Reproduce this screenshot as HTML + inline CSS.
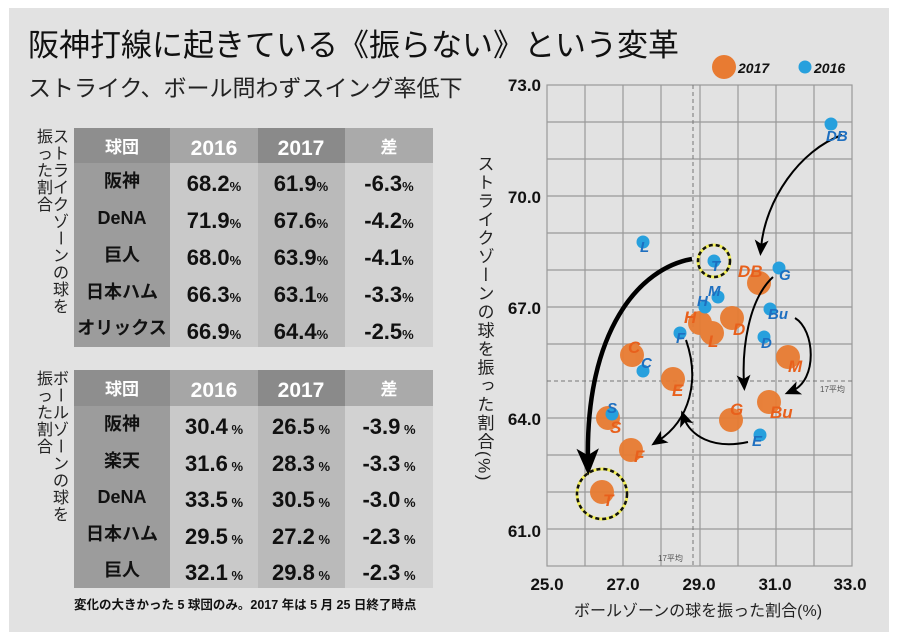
<!DOCTYPE html>
<html><head><meta charset="utf-8"><style>
html,body{margin:0;padding:0;background:#fff;}
svg{display:block;}
text{font-family:"Liberation Sans","Noto Sans CJK JP",sans-serif;}
</style></head><body>
<svg width="900" height="644" viewBox="0 0 900 644" xmlns="http://www.w3.org/2000/svg">
<defs>
<marker id="ah" markerWidth="6" markerHeight="6" refX="3" refY="3" orient="auto" markerUnits="strokeWidth"><path d="M0,0.5 L6,3 L0,5.5 L1.5,3 Z" fill="#000"/></marker>
<marker id="ah2" markerWidth="8" markerHeight="8" refX="4" refY="4" orient="auto" markerUnits="strokeWidth"><path d="M0,0.5 L8,4 L0,7.5 L2,4 Z" fill="#000"/></marker>
</defs>
<rect x="9" y="8" width="880" height="624" fill="#e2e2e2"/>
<text x="28" y="56" font-size="31" fill="#111">阪神打線に起きている《振らない》という変革</text>
<text x="28" y="96" font-size="23" fill="#222">ストライク、ボール問わずスイング率低下</text>

<!-- table 1 -->
<g>
<rect x="74" y="128" width="96" height="219" fill="#9c9c9c"/>
<rect x="170" y="128" width="88" height="219" fill="#c9c9c9"/>
<rect x="258" y="128" width="87" height="219" fill="#bababa"/>
<rect x="345" y="128" width="88" height="219" fill="#d2d2d2"/>
<rect x="74" y="128" width="96" height="35" fill="#8e8e8e"/>
<rect x="170" y="128" width="88" height="35" fill="#a6a6a6"/>
<rect x="258" y="128" width="87" height="35" fill="#8a8a8a"/>
<rect x="345" y="128" width="88" height="35" fill="#aaaaaa"/>
<g fill="#fff" font-size="21" font-weight="bold" text-anchor="middle">
<text x="122" y="153" font-size="17">球団</text><text x="214" y="155">2016</text><text x="301" y="155">2017</text><text x="389" y="153" font-size="17">差</text></g>
<g fill="#111" font-weight="bold" font-size="22">
<g text-anchor="middle" font-size="18"><text x="122" y="187">阪神</text><text x="122" y="224">DeNA</text><text x="122" y="261">巨人</text><text x="122" y="298">日本ハム</text><text x="122" y="334">オリックス</text></g>
<g text-anchor="middle">
<text x="214" y="191">68.2<tspan font-size="13">%</tspan></text><text x="214" y="228">71.9<tspan font-size="13">%</tspan></text><text x="214" y="265">68.0<tspan font-size="13">%</tspan></text><text x="214" y="302">66.3<tspan font-size="13">%</tspan></text><text x="214" y="339">66.9<tspan font-size="13">%</tspan></text>
<text x="301" y="191">61.9<tspan font-size="13">%</tspan></text><text x="301" y="228">67.6<tspan font-size="13">%</tspan></text><text x="301" y="265">63.9<tspan font-size="13">%</tspan></text><text x="301" y="302">63.1<tspan font-size="13">%</tspan></text><text x="301" y="339">64.4<tspan font-size="13">%</tspan></text>
<text x="389" y="191">-6.3<tspan font-size="13">%</tspan></text><text x="389" y="228">-4.2<tspan font-size="13">%</tspan></text><text x="389" y="265">-4.1<tspan font-size="13">%</tspan></text><text x="389" y="302">-3.3<tspan font-size="13">%</tspan></text><text x="389" y="339">-2.5<tspan font-size="13">%</tspan></text>
</g></g>
<g font-size="16" fill="#222" text-anchor="middle">
<text x="61" y="142">ス</text><text x="61" y="159">ト</text><text x="61" y="176">ラ</text><text x="61" y="193">イ</text><text x="61" y="210">ク</text><text x="61" y="227">ゾ</text><text x="61" y="244" transform="rotate(90 61 238)">ー</text><text x="61" y="261">ン</text><text x="61" y="278">の</text><text x="61" y="295">球</text><text x="61" y="312">を</text>
<text x="45" y="142">振</text><text x="45" y="159">っ</text><text x="45" y="176">た</text><text x="45" y="193">割</text><text x="45" y="210">合</text>
</g>
</g>

<!-- table 2 -->
<g>
<rect x="74" y="370" width="96" height="218" fill="#9c9c9c"/>
<rect x="170" y="370" width="88" height="218" fill="#c9c9c9"/>
<rect x="258" y="370" width="87" height="218" fill="#bababa"/>
<rect x="345" y="370" width="88" height="218" fill="#d2d2d2"/>
<rect x="74" y="370" width="96" height="36" fill="#8e8e8e"/>
<rect x="170" y="370" width="88" height="36" fill="#a6a6a6"/>
<rect x="258" y="370" width="87" height="36" fill="#8a8a8a"/>
<rect x="345" y="370" width="88" height="36" fill="#aaaaaa"/>
<g fill="#fff" font-size="21" font-weight="bold" text-anchor="middle">
<text x="122" y="395" font-size="17">球団</text><text x="214" y="397">2016</text><text x="301" y="397">2017</text><text x="389" y="395" font-size="17">差</text></g>
<g fill="#111" font-weight="bold" font-size="22">
<g text-anchor="middle" font-size="18"><text x="122" y="430">阪神</text><text x="122" y="467">楽天</text><text x="122" y="503">DeNA</text><text x="122" y="540">日本ハム</text><text x="122" y="576">巨人</text></g>
<g text-anchor="middle">
<text x="214" y="434">30.4<tspan font-size="13"> %</tspan></text><text x="214" y="471">31.6<tspan font-size="13"> %</tspan></text><text x="214" y="507">33.5<tspan font-size="13"> %</tspan></text><text x="214" y="544">29.5<tspan font-size="13"> %</tspan></text><text x="214" y="580">32.1<tspan font-size="13"> %</tspan></text>
<text x="301" y="434">26.5<tspan font-size="13"> %</tspan></text><text x="301" y="471">28.3<tspan font-size="13"> %</tspan></text><text x="301" y="507">30.5<tspan font-size="13"> %</tspan></text><text x="301" y="544">27.2<tspan font-size="13"> %</tspan></text><text x="301" y="580">29.8<tspan font-size="13"> %</tspan></text>
<text x="389" y="434">-3.9<tspan font-size="13"> %</tspan></text><text x="389" y="471">-3.3<tspan font-size="13"> %</tspan></text><text x="389" y="507">-3.0<tspan font-size="13"> %</tspan></text><text x="389" y="544">-2.3<tspan font-size="13"> %</tspan></text><text x="389" y="580">-2.3<tspan font-size="13"> %</tspan></text>
</g></g>
<g font-size="16" fill="#222" text-anchor="middle">
<text x="61" y="384">ボ</text><text x="61" y="401" transform="rotate(90 61 395)">ー</text><text x="61" y="418">ル</text><text x="61" y="435">ゾ</text><text x="61" y="452" transform="rotate(90 61 446)">ー</text><text x="61" y="469">ン</text><text x="61" y="486">の</text><text x="61" y="503">球</text><text x="61" y="520">を</text>
<text x="45" y="384">振</text><text x="45" y="401">っ</text><text x="45" y="418">た</text><text x="45" y="435">割</text><text x="45" y="452">合</text>
</g>
<text x="74" y="609" font-size="12.5" font-weight="bold" fill="#111">変化の大きかった 5 球団のみ。2017 年は 5 月 25 日終了時点</text>
</g>

<!-- chart -->
<g stroke="#999" stroke-width="1.2" fill="none">
<rect x="547" y="85" width="305" height="481"/>
<path d="M585,85V566M623,85V566M661,85V566M700,85V566M738,85V566M776,85V566M814,85V566"/>
<path d="M547,122H852M547,159H852M547,196H852M547,233H852M547,270H852M547,307H852M547,344H852M547,418H852M547,455H852M547,492H852M547,529H852"/>
</g>
<g stroke="#777" stroke-width="1" stroke-dasharray="4,3"><path d="M693,85V566"/><path d="M547,381H852"/></g>
<text x="820" y="392" font-size="8" fill="#555">17平均</text>
<text x="658" y="561" font-size="8" fill="#555">17平均</text>
<g font-size="17" font-weight="bold" fill="#111" text-anchor="end">
<text x="541" y="91">73.0</text><text x="541" y="203">70.0</text><text x="541" y="314">67.0</text><text x="541" y="425">64.0</text><text x="541" y="537">61.0</text></g>
<g font-size="17" font-weight="bold" fill="#111" text-anchor="middle">
<text x="547" y="590">25.0</text><text x="623" y="590">27.0</text><text x="699" y="590">29.0</text><text x="775" y="590">31.0</text><text x="850" y="590">33.0</text></g>
<text x="698" y="616" font-size="16" fill="#222" text-anchor="middle">ボールゾーンの球を振った割合(%)</text>
<text x="484" y="155" font-size="17" letter-spacing="1.5" fill="#222" writing-mode="tb">ストライクゾーンの球を振った割合(%)</text>

<!-- legend -->
<circle cx="724" cy="67" r="12" fill="#e87b32"/>
<text x="738" y="73" font-size="14" font-weight="bold" font-style="italic" fill="#111">2017</text>
<circle cx="805" cy="67" r="6.5" fill="#27a0dd"/>
<text x="814" y="73" font-size="14" font-weight="bold" font-style="italic" fill="#111">2016</text>

<circle cx="714" cy="261" r="16" fill="none" stroke="#f2ef5a" stroke-width="3"/>
<circle cx="714" cy="261" r="16" fill="none" stroke="#111" stroke-width="2.5" stroke-dasharray="4,3"/>
<circle cx="602" cy="494" r="25" fill="none" stroke="#f2ef5a" stroke-width="3"/>
<circle cx="602" cy="494" r="25" fill="none" stroke="#111" stroke-width="2.5" stroke-dasharray="4,3"/>

<g fill="#e87b32" opacity="0.95">
<circle cx="759" cy="283" r="12"/><circle cx="700" cy="323" r="12"/><circle cx="712" cy="333" r="12"/><circle cx="732" cy="318" r="12"/>
<circle cx="632" cy="355" r="12"/><circle cx="788" cy="357" r="12"/><circle cx="673" cy="379" r="12"/><circle cx="731" cy="420" r="12"/>
<circle cx="769" cy="402" r="12"/><circle cx="608" cy="418" r="12"/><circle cx="631" cy="450" r="12"/><circle cx="602" cy="492" r="12"/>
</g>
<g fill="#27a0dd">
<circle cx="831" cy="124" r="6.5"/><circle cx="643" cy="242" r="6.5"/><circle cx="714" cy="261" r="6.5"/><circle cx="779" cy="268" r="6.5"/>
<circle cx="718" cy="297" r="6.5"/><circle cx="705" cy="307" r="6.5"/><circle cx="770" cy="309" r="6.5"/><circle cx="680" cy="333" r="6.5"/>
<circle cx="764" cy="337" r="6.5"/><circle cx="643" cy="371" r="6.5"/><circle cx="612" cy="414" r="6.5"/><circle cx="760" cy="435" r="6.5"/>
</g>

<g fill="none" stroke="#000">
<path d="M692,259 C640,268 585,330 588,462" stroke-width="4.5" marker-end="url(#ah)"/>
<path d="M842,135 C800,150 765,200 761,248" stroke-width="2" marker-end="url(#ah2)"/>
<path d="M773,277 C748,300 742,350 744,383" stroke-width="2" marker-end="url(#ah2)"/>
<path d="M795,318 C815,330 818,380 792,391" stroke-width="2" marker-end="url(#ah2)"/>
<path d="M686,340 C700,380 690,420 658,441" stroke-width="2" marker-end="url(#ah2)"/>
<path d="M748,442 C712,450 690,435 684,418" stroke-width="2" marker-end="url(#ah2)"/>
</g>

<g font-size="15" font-weight="bold" font-style="italic" fill="#1e6fc0">
<text x="826" y="141">DB</text><text x="640" y="252">L</text><text x="711" y="271">T</text><text x="779" y="280">G</text>
<text x="708" y="296">M</text><text x="697" y="306">H</text><text x="768" y="319">Bu</text><text x="676" y="343">F</text>
<text x="761" y="348">D</text><text x="641" y="368">C</text><text x="607" y="413">S</text><text x="752" y="446">E</text>
</g>
<g font-size="17" font-weight="bold" font-style="italic" fill="#e8601c">
<text x="738" y="277">DB</text><text x="684" y="323">H</text><text x="708" y="347">L</text><text x="733" y="335">D</text>
<text x="628" y="353">C</text><text x="788" y="372">M</text><text x="672" y="396">E</text><text x="730" y="415">G</text>
<text x="770" y="418">Bu</text><text x="610" y="433">S</text><text x="634" y="462">F</text><text x="603" y="506">T</text>
</g>
</svg>
</body></html>
